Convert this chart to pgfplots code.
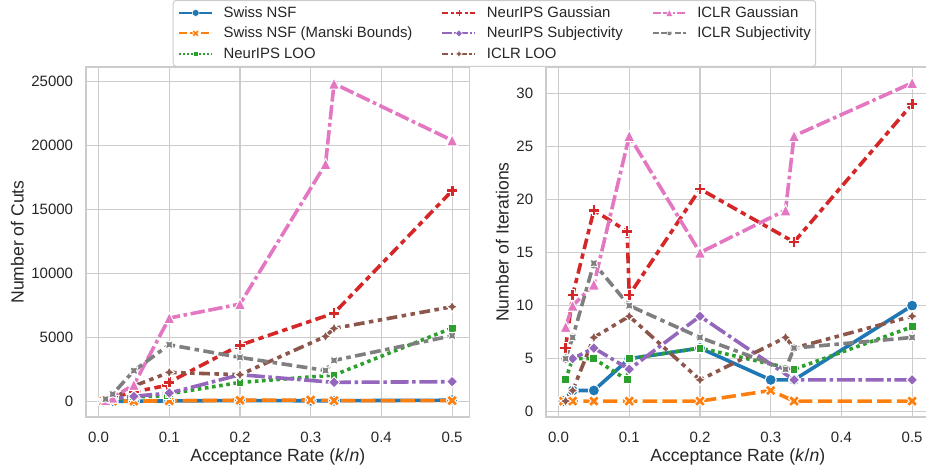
\documentclass[border=0pt]{standalone}
\usepackage{fontspec}
\setmainfont{Liberation Sans}
\usepackage{pgfplots}
\pgfplotsset{compat=1.18}

\definecolor{c1}{HTML}{1F77B4}
\definecolor{c2}{HTML}{FF7F0E}
\definecolor{c3}{HTML}{2CA02C}
\definecolor{c4}{HTML}{D62728}
\definecolor{c5}{HTML}{9467BD}
\definecolor{c6}{HTML}{8C564B}
\definecolor{c7}{HTML}{E377C2}
\definecolor{c8}{HTML}{7F7F7F}
\definecolor{tcol}{HTML}{262626}
\definecolor{gcol}{HTML}{CCCCCC}

\newcommand\mkm[2]{\pgfpathmoveto{\pgfpoint{#1\pgfplotmarksize}{#2\pgfplotmarksize}}}
\newcommand\mkl[2]{\pgfpathlineto{\pgfpoint{#1\pgfplotmarksize}{#2\pgfplotmarksize}}}
\pgfdeclareplotmark{mo}{\pgfpathcircle{\pgfpointorigin}{\pgfplotmarksize}\pgfusepathqfillstroke}
\pgfdeclareplotmark{mX}{\mkm{-0.5}{-1}\mkl{0}{-0.5}\mkl{0.5}{-1}\mkl{1}{-0.5}\mkl{0.5}{0}\mkl{1}{0.5}\mkl{0.5}{1}\mkl{0}{0.5}\mkl{-0.5}{1}\mkl{-1}{0.5}\mkl{-0.5}{0}\mkl{-1}{-0.5}\pgfpathclose\pgfusepathqfillstroke}
\pgfdeclareplotmark{mP}{\mkm{-0.3333}{-1}\mkl{0.3333}{-1}\mkl{0.3333}{-0.3333}\mkl{1}{-0.3333}\mkl{1}{0.3333}\mkl{0.3333}{0.3333}\mkl{0.3333}{1}\mkl{-0.3333}{1}\mkl{-0.3333}{0.3333}\mkl{-1}{0.3333}\mkl{-1}{-0.3333}\mkl{-0.3333}{-0.3333}\pgfpathclose\pgfusepathqfillstroke}
\pgfdeclareplotmark{msq}{\mkm{-0.7071}{-0.7071}\mkl{0.7071}{-0.7071}\mkl{0.7071}{0.7071}\mkl{-0.7071}{0.7071}\pgfpathclose\pgfusepathqfillstroke}
\pgfdeclareplotmark{mD}{\mkm{0}{-1}\mkl{1}{0}\mkl{0}{1}\mkl{-1}{0}\pgfpathclose\pgfusepathqfillstroke}
\pgfdeclareplotmark{mtri}{\mkm{0}{1}\mkl{-1}{-1}\mkl{1}{-1}\pgfpathclose\pgfusepathqfillstroke}
\pgfdeclareplotmark{mstar}{\mkm{0}{1}\mkl{-0.3536}{0.3536}\mkl{-1}{0}\mkl{-0.3536}{-0.3536}\mkl{0}{-1}\mkl{0.3536}{-0.3536}\mkl{1}{0}\mkl{0.3536}{0.3536}\pgfpathclose\pgfusepathqfillstroke}
\pgfdeclareplotmark{mstarx}{\mkm{0.7071}{0.7071}\mkl{0}{0.5}\mkl{-0.7071}{0.7071}\mkl{-0.5}{0}\mkl{-0.7071}{-0.7071}\mkl{0}{-0.5}\mkl{0.7071}{-0.7071}\mkl{0.5}{0}\pgfpathclose\pgfusepathqfillstroke}

\tikzset{
 mk/.style={mark options={solid, sharp corners, fill=#1, draw=white, line width=1pt}},
 lmk/.style={mark options={solid, sharp corners, fill=#1, draw=white, line width=0.5pt}},
 main/.style={line width=3.6pt, line cap=butt, line join=round, mark size=5.6pt},
 leg/.style={line width=2pt, line cap=butt, line join=round, mark size=3.5pt, sharp corners},
 sA/.style={main, c1, solid, mark=mo, mk=c1},
 sB/.style={main, c2, dash pattern=on 14.4pt off 5.4pt, mark=mX, mk=c2},
 sC/.style={main, c3, dash pattern=on 3.6pt off 3.6pt, mark=msq, mk=c3},
 sD/.style={main, c4, dash pattern=on 10.8pt off 4.5pt on 5.4pt off 4.5pt, mark=mP, mk=c4},
 sE/.style={main, c5, dash pattern=on 18pt off 3.6pt on 3.6pt off 3.6pt, mark=mD, mk=c5},
 sF/.style={main, c6, dash pattern=on 10.8pt off 4.5pt on 4.5pt off 4.5pt on 4.5pt off 4.5pt, mark=mstar, mk=c6},
 sG/.style={main, c7, dash pattern=on 14.4pt off 3.6pt on 14.4pt off 3.6pt on 3.6pt off 3.6pt, mark=mtri, mk=c7},
 sH/.style={main, c8, dash pattern=on 10.8pt off 4.5pt on 10.8pt off 4.5pt on 4.5pt off 4.5pt, mark=mstarx, mk=c8},
 lA/.style={leg, c1, solid, mark=mo, lmk=c1},
 lB/.style={leg, c2, dash pattern=on 8pt off 3pt, mark=mX, lmk=c2},
 lC/.style={leg, c3, dash pattern=on 2pt off 2pt, mark=msq, lmk=c3},
 lD/.style={leg, c4, dash pattern=on 6pt off 2.5pt on 3pt off 2.5pt, mark=mP, lmk=c4},
 lE/.style={leg, c5, dash pattern=on 10pt off 2pt on 2pt off 2pt, mark=mD, lmk=c5},
 lF/.style={leg, c6, dash pattern=on 6pt off 2.5pt on 2.5pt off 2.5pt on 2.5pt off 2.5pt, mark=mstar, lmk=c6},
 lG/.style={leg, c7, dash pattern=on 8pt off 2pt on 8pt off 2pt on 2pt off 2pt, mark=mtri, lmk=c7},
 lH/.style={leg, c8, dash pattern=on 6pt off 2.5pt on 6pt off 2.5pt on 2.5pt off 2.5pt, mark=mstarx, lmk=c8},
}

\pgfplotsset{
 legend image code/.code={\draw[mark repeat=2,mark phase=2,#1] plot coordinates {(0pt,0pt) (16.5pt,0pt) (33pt,0pt)};},
 common/.style={
  scale only axis, width=383.6pt, height=350pt,
  xmin=-0.0177, xmax=0.5247,
  xtick={0,0.1,0.2,0.3,0.4,0.5}, xticklabels={0.0,0.1,0.2,0.3,0.4,0.5},
  scaled ticks=false,
  grid=major, major grid style={draw=gcol, line width=1.2pt},
  axis line style={draw=gcol, line width=1.5pt},
  major tick length=0pt,
  tick label style={font=\fontsize{15}{18}\selectfont, text=tcol},
  xticklabel style={inner sep=0pt, anchor=north, yshift=-14.5pt},
  yticklabel style={inner sep=0pt, anchor=east, xshift=-12.7pt},
  xlabel={Acceptance Rate (\textit{k}/\textit{n})},
  every axis x label/.style={at={(axis description cs:0.5,0)}, anchor=base, yshift=-44.7pt,
     font=\fontsize{17.6}{21}\selectfont, text=tcol},
 },
}

\begin{document}
\begin{tikzpicture}
\useasboundingbox (0,0) rectangle (926pt,469pt);

\begin{axis}[common,
  at={(86pt,52pt)}, anchor=south west,
  ymin=-1220, ymax=26150,
  ytick={0,5000,10000,15000,20000,25000},
  yticklabels={0,5000,10000,15000,20000,25000},
  ylabel={Number of Cuts},
  every axis y label/.style={at={(axis description cs:-0.1629,0.5)}, rotate=90, anchor=base,
     font=\fontsize{17.6}{21}\selectfont, text=tcol},
  legend columns=3,
  legend cell align=left,
  legend style={at={(axis description cs:0.226,1.1914)}, anchor=north west,
    draw=gcol, line width=1pt, rounded corners=3pt, fill=white,
    font=\fontsize{14.9}{18}\selectfont, text=tcol,
    inner xsep=5pt, inner ysep=6pt, row sep=7.7pt,
    nodes={inner sep=0pt, text height=10.8pt, text depth=2pt},
    /tikz/every odd column/.append style={column sep=10.5pt},
    /tikz/every even column/.append style={column sep=29pt}},
]
\addplot[sA, forget plot] coordinates {(0.007,1) (0.02,8) (0.05,15) (0.1,40) (0.2,70) (0.3,50) (0.333,55) (0.5,90)};
\addplot[sB, forget plot] coordinates {(0.007,1) (0.02,10) (0.05,20) (0.1,45) (0.2,90) (0.3,110) (0.333,60) (0.5,60)};
\addplot[sC, forget plot] coordinates {(0.01,50) (0.02,120) (0.05,350) (0.097,450) (0.1,600) (0.2,1480) (0.333,2060) (0.5,5735)};
\addplot[sD, forget plot] coordinates {(0.01,100) (0.02,300) (0.05,750) (0.097,1250) (0.1,1500) (0.2,4400) (0.333,6900) (0.5,16475)};
\addplot[sE, forget plot] coordinates {(0.01,100) (0.02,200) (0.05,400) (0.1,650) (0.2,2085) (0.333,1490) (0.5,1540)};
\addplot[sF, forget plot] coordinates {(0.01,50) (0.02,200) (0.05,1200) (0.1,2270) (0.2,2085) (0.321,5083) (0.333,5709) (0.5,7404)};
\addplot[sG, forget plot] coordinates {(0.01,100) (0.02,300) (0.05,1300) (0.1,6517) (0.2,7612) (0.321,18560) (0.333,24850) (0.5,20412)};
\addplot[sH, forget plot] coordinates {(0.01,180) (0.02,570) (0.05,2400) (0.1,4430) (0.2,3440) (0.321,2420) (0.333,3206) (0.5,5135)};
\addlegendimage{lA}\addlegendentry{Swiss NSF}
\addlegendimage{lD}\addlegendentry{NeurIPS Gaussian}
\addlegendimage{lG}\addlegendentry{ICLR Gaussian}
\addlegendimage{lB}\addlegendentry{Swiss NSF (Manski Bounds)}
\addlegendimage{lE}\addlegendentry{NeurIPS Subjectivity}
\addlegendimage{lH}\addlegendentry{ICLR Subjectivity}
\addlegendimage{lC}\addlegendentry{NeurIPS LOO}
\addlegendimage{lF}\addlegendentry{ICLR LOO}
\end{axis}

\begin{axis}[common,
  at={(546pt,52pt)}, anchor=south west,
  ymin=-0.5, ymax=32.5,
  ytick={0,5,10,15,20,25,30},
  yticklabels={0,5,10,15,20,25,30},
  ylabel={Number of Iterations},
  every axis y label/.style={at={(axis description cs:-0.0975,0.5)}, rotate=90, anchor=base,
     font=\fontsize{17.6}{21}\selectfont, text=tcol},
]
\addplot[sA] coordinates {(0.007,1) (0.02,2) (0.05,2) (0.1,5) (0.2,6) (0.3,3) (0.333,3) (0.5,10)};
\addplot[sB] coordinates {(0.007,1) (0.02,1) (0.05,1) (0.1,1) (0.2,1) (0.3,2) (0.333,1) (0.5,1)};
\addplot[sC] coordinates {(0.01,3) (0.02,5) (0.05,5) (0.097,3) (0.1,5) (0.2,6) (0.333,4) (0.5,8)};
\addplot[sD] coordinates {(0.01,6) (0.02,11) (0.05,19) (0.097,17) (0.1,11) (0.2,21) (0.333,16) (0.5,29)};
\addplot[sE] coordinates {(0.01,5) (0.02,5) (0.05,6) (0.1,4) (0.2,9) (0.333,3) (0.5,3)};
\addplot[sF] coordinates {(0.01,1) (0.02,2) (0.05,7) (0.1,9) (0.2,3) (0.321,7) (0.333,6) (0.5,9)};
\addplot[sG] coordinates {(0.01,8) (0.02,10) (0.05,12) (0.1,26) (0.2,15) (0.321,19) (0.333,26) (0.5,31)};
\addplot[sH] coordinates {(0.01,5) (0.02,7) (0.05,14) (0.1,10) (0.2,7) (0.321,4) (0.333,6) (0.5,7)};
\end{axis}
\end{tikzpicture}
\end{document}
